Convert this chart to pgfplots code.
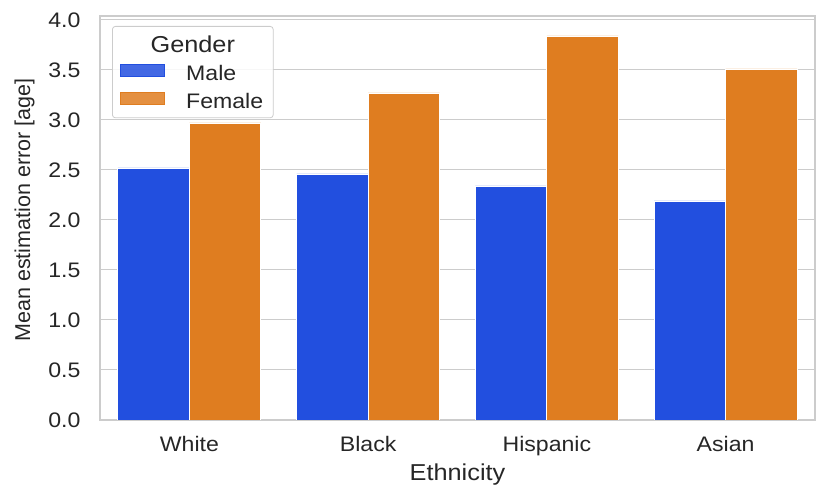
\documentclass[border=0pt]{standalone}
\usepackage{pgfplots}
\pgfplotsset{compat=1.18}
\usepackage{fontspec}
\setmainfont[FakeStretch=1.1]{Liberation Sans}
\newfontfamily\ylabfont{Liberation Sans}
\definecolor{sbblue}{HTML}{224FDF}
\definecolor{sborange}{HTML}{DF7D20}
\definecolor{gridgray}{HTML}{CCCCCC}
\definecolor{txt}{HTML}{262626}
\begin{document}
\begin{tikzpicture}
\useasboundingbox (0,0) rectangle (831bp,498bp);
\begin{axis}[
  at={(100bp,78bp)}, anchor=south west,
  scale only axis, width=715bp, height=404bp,
  xmin=-0.5, xmax=3.5, ymin=0, ymax=4.04,
  xtick={0,1,2,3}, xticklabels={White,Black,Hispanic,Asian},
  ytick={0,0.5,...,4.0},
  yticklabel style={/pgf/number format/fixed, /pgf/number format/fixed zerofill, /pgf/number format/precision=1},
  /pgf/number format/assume math mode=true,
  major tick length=0pt,
  ymajorgrids, grid style={gridgray, line width=1bp},
  axis line style={gridgray, line width=1.6bp},
  tick label style={font=\fontsize{21bp}{24bp}\selectfont, text=txt},
  xticklabel style={yshift=-13bp},
  yticklabel style={xshift=-16bp},
  xlabel={Ethnicity},
  xlabel style={font=\fontsize{23bp}{26bp}\selectfont, text=txt, yshift=-1bp},
  ylabel={Mean estimation error [age]},
  ylabel style={font=\ylabfont\fontsize{21.5bp}{26bp}\selectfont, text=txt, yshift=7bp, xshift=8bp},
  legend style={at={(12bp,394bp)}, anchor=north west, draw=gridgray, line width=0.8bp,
    rounded corners=3bp, fill=white, fill opacity=0.85, text opacity=1,
    font=\fontsize{21bp}{24bp}\selectfont, text=txt, cells={anchor=west},
    inner xsep=8bp, inner ysep=6bp, row sep=0bp,
    /tikz/every odd column/.append style={column sep=19bp}},
  legend cell align=left,
]
\addlegendimage{legend image code/.code={\path[draw=none] (0bp,0bp) -- (44bp,0bp); \node[overlay, anchor=center, text=txt, font=\fontsize{23bp}{26bp}\selectfont] at (72bp,0bp) {Gender};}}
\addlegendentry{\rule[-8bp]{0pt}{27bp}}
\addplot[ybar, bar width=0.4, bar shift=-0.2, fill=sbblue, draw=white, line width=0.8bp,
  legend image code/.code={\fill[sbblue, sharp corners] (0bp,-6bp) rectangle (44bp,6bp);}]
  coordinates {(0,2.52) (1,2.46) (2,2.34) (3,2.19)};
\addlegendentry{\rule[-7bp]{0pt}{29bp}Male}
\addplot[ybar, bar width=0.4, bar shift=0.2, fill=sborange, draw=white, line width=0.8bp,
  legend image code/.code={\fill[sborange, sharp corners] (0bp,-6bp) rectangle (44bp,6bp);}]
  coordinates {(0,2.97) (1,3.27) (2,3.84) (3,3.51)};
\addlegendentry{\rule[-7bp]{0pt}{29bp}Female}
\end{axis}
\end{tikzpicture}
\end{document}
